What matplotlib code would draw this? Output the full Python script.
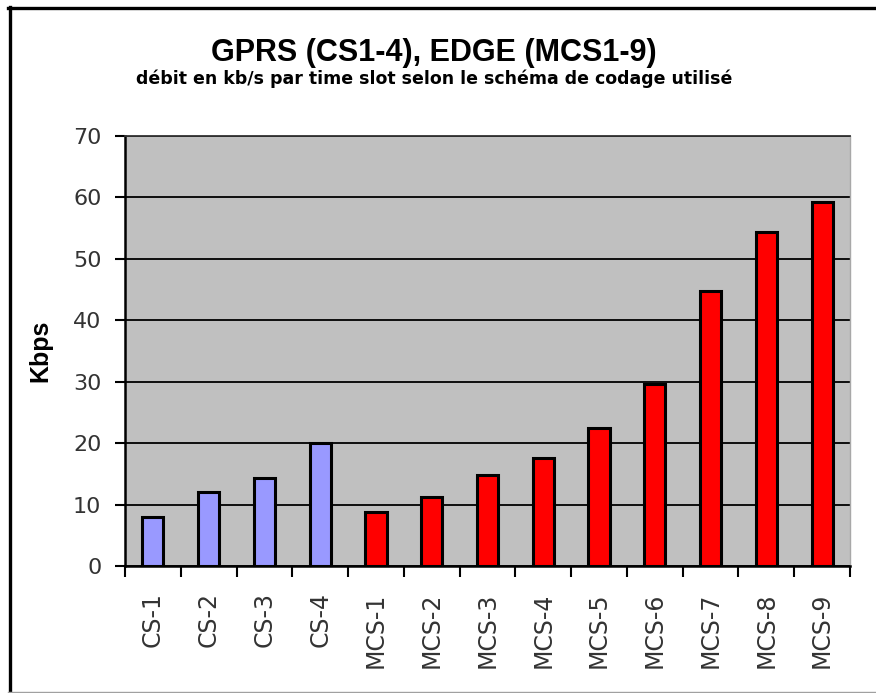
import matplotlib
matplotlib.use("Agg")
import matplotlib.pyplot as plt
from matplotlib.lines import Line2D
import numpy as np

# data
gprs_labels = ["CS-1", "CS-2", "CS-3", "CS-4"]
gprs_kbps = [8.0, 12.0, 14.4, 20.0]
edge_labels = ["MCS-1", "MCS-2", "MCS-3", "MCS-4", "MCS-5", "MCS-6", "MCS-7", "MCS-8", "MCS-9"]
edge_kbps = [8.8, 11.2, 14.8, 17.6, 22.4, 29.6, 44.8, 54.4, 59.2]
y_ticks = [0, 10, 20, 30, 40, 50, 60, 70]

labels = gprs_labels + edge_labels
values = gprs_kbps + edge_kbps
colors = ["#9999FF"] * len(gprs_kbps) + ["#FF0000"] * len(edge_kbps)

fig = plt.figure(figsize=(8.76, 6.93), dpi=100)
ax = fig.add_axes([0.1427, 0.1833, 0.8276, 0.6205])
ax.set_facecolor("#C0C0C0")

x = np.arange(len(labels))
ax.bar(x, values, width=0.38, color=colors, edgecolor="black", linewidth=2.2, zorder=3)

ax.set_xlim(-0.5, len(labels) - 0.5)
ax.set_ylim(0, 70)
ax.set_yticks(y_ticks)
ax.yaxis.grid(True, color="black", linewidth=1.3, zorder=1)
ax.set_axisbelow(True)

# labels centred under bars, tick marks between categories
ax.set_xticks(x)
ax.set_xticklabels(labels, rotation=90)
ax.set_xticks(np.arange(len(labels) + 1) - 0.5, minor=True)
ax.tick_params(axis="x", which="major", length=0, pad=19, labelsize=17, labelcolor="#333333")
ax.tick_params(axis="x", which="minor", length=8, width=1.5, color="black", direction="out")
ax.tick_params(axis="y", length=7, width=1.5, color="black", pad=10, labelsize=16, labelcolor="#333333")

for name in ["left", "bottom"]:
    ax.spines[name].set_color("black")
    ax.spines[name].set_linewidth(1.8)
ax.spines["top"].set_color("#333333")
ax.spines["top"].set_linewidth(1.3)
ax.spines["right"].set_color("#A8A8A8")
ax.spines["right"].set_linewidth(1.0)

ax.set_ylabel("Kbps", fontsize=18, fontweight="bold", family="Liberation Sans")
ax.yaxis.set_label_coords(-0.1007, 0.5)

fig.text(0.4954, 0.923, "GPRS (CS1-4), EDGE (MCS1-9)", ha="center", va="center",
         fontsize=22, fontweight="bold", family="Liberation Sans")
fig.text(0.4954, 0.886, "débit en kb/s par time slot selon le schéma de codage utilisé",
         ha="center", va="center", fontsize=12.5, fontweight="bold", family="DejaVu Sans")

# outer frame: thick left/top, thin grey bottom
fig.add_artist(Line2D([9.5 / 876, 9.5 / 876], [0, 1 - 7 / 693], transform=fig.transFigure,
                      color="black", linewidth=2.4))
fig.add_artist(Line2D([8 / 876, 1], [1 - 7.5 / 693, 1 - 7.5 / 693], transform=fig.transFigure,
                      color="black", linewidth=2.4))
fig.add_artist(Line2D([8 / 876, 1], [0.8 / 693, 0.8 / 693], transform=fig.transFigure,
                      color="#A0A0A0", linewidth=1.0))

fig.savefig("out.png", dpi=100)
